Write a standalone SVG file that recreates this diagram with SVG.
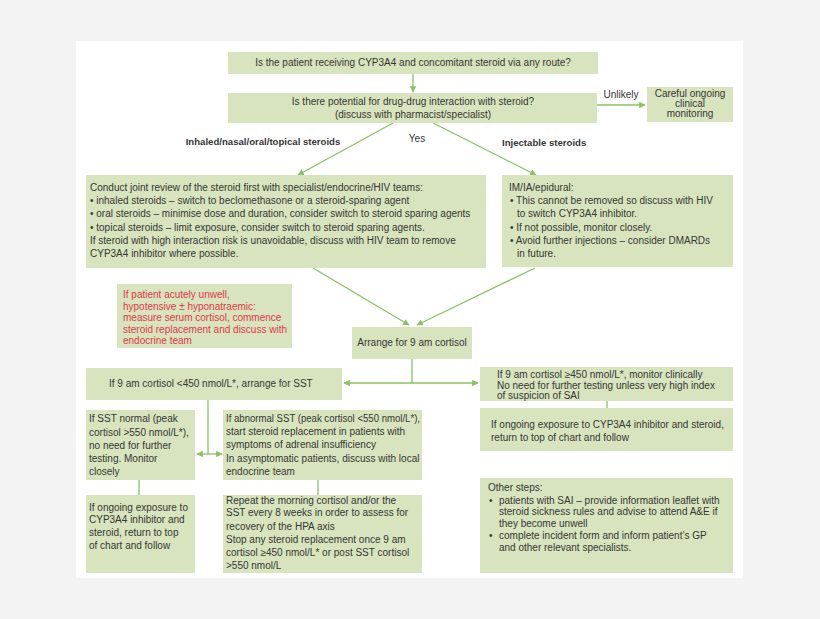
<svg xmlns="http://www.w3.org/2000/svg" width="820" height="619" viewBox="0 0 820 619">
<defs>
<style>
.bg{fill:#f3f3f3}
.page{fill:#ffffff}
.box{fill:#d7e4bd}
.t{font-family:"Liberation Sans",Arial,sans-serif;font-size:10px;fill:#363636}
.c{text-anchor:middle}
.b{font-weight:bold;font-size:9.6px}
.red{fill:#e2374a}
.ln{stroke:#8cc063;stroke-width:1.3;fill:none}
</style>
<marker id="ah" viewBox="0 0 10 10" refX="9" refY="5" markerWidth="5" markerHeight="5" orient="auto-start-reverse">
<path d="M0,0 L10,5 L0,10 z" fill="#8cc063"/>
</marker>
</defs>
<rect class="bg" x="0" y="0" width="820" height="619"/>
<rect class="page" x="76" y="41" width="667" height="537"/>

<g id="connectors">
<line class="ln" x1="413" y1="74" x2="413" y2="92" marker-end="url(#ah)"/>
<line class="ln" x1="597" y1="105" x2="645" y2="105" marker-end="url(#ah)"/>
<line class="ln" x1="393" y1="123" x2="298" y2="175" marker-end="url(#ah)"/>
<line class="ln" x1="433" y1="123" x2="536" y2="175" marker-end="url(#ah)"/>
<line class="ln" x1="313" y1="268" x2="409" y2="325" marker-end="url(#ah)"/>
<line class="ln" x1="535" y1="268" x2="417" y2="325" marker-end="url(#ah)"/>
<line class="ln" x1="412" y1="359" x2="412" y2="383"/>
<line class="ln" x1="344" y1="383" x2="478" y2="383" marker-start="url(#ah)" marker-end="url(#ah)"/>
<line class="ln" x1="208" y1="400" x2="208" y2="454"/>
<line class="ln" x1="197" y1="454" x2="222" y2="454" marker-start="url(#ah)" marker-end="url(#ah)"/>
<line class="ln" x1="139" y1="480" x2="139" y2="495"/>
<line class="ln" x1="318" y1="480" x2="318" y2="495"/>
<line class="ln" x1="607" y1="401" x2="607" y2="408"/>
</g>

<g id="labels">
<text class="t b c" x="263" y="145">Inhaled/nasal/oral/topical steroids</text>
<text class="t c" x="417" y="142">Yes</text>
<text class="t b" x="502" y="146">Injectable steroids</text>
<text class="t c" x="621" y="98">Unlikely</text>
</g>

<g id="n1">
<rect class="box" x="228" y="52" width="370" height="22"/>
<text class="t c" x="413" y="66">Is the patient receiving CYP3A4 and concomitant steroid via any route?</text>
</g>

<g id="n2">
<rect class="box" x="228" y="93" width="369" height="30"/>
<text class="t c" x="413" y="105">Is there potential for drug-drug interaction with steroid?</text>
<text class="t c" x="413" y="118">(discuss with pharmacist/specialist)</text>
</g>

<g id="n3">
<rect class="box" x="647" y="87" width="86" height="35"/>
<text class="t c" x="690" y="97">Careful ongoing</text>
<text class="t c" x="690" y="107">clinical</text>
<text class="t c" x="690" y="117">monitoring</text>
</g>

<g id="n4">
<rect class="box" x="86" y="175" width="400" height="93"/>
<text class="t" x="90" y="191">Conduct joint review of the steroid first with specialist/endocrine/HIV teams:</text>
<text class="t" x="90" y="204">• inhaled steroids – switch to beclomethasone or a steroid-sparing agent</text>
<text class="t" x="90" y="217">• oral steroids – minimise dose and duration, consider switch to steroid sparing agents</text>
<text class="t" x="90" y="231">• topical steroids – limit exposure, consider switch to steroid sparing agents.</text>
<text class="t" x="90" y="244">If steroid with high interaction risk is unavoidable, discuss with HIV team to remove</text>
<text class="t" x="90" y="257">CYP3A4 inhibitor where possible.</text>
</g>

<g id="n5">
<rect class="box" x="502" y="175" width="231" height="92"/>
<text class="t" x="509" y="191">IM/IA/epidural:</text>
<text class="t" x="510" y="204">• This cannot be removed so discuss with HIV</text>
<text class="t" x="517" y="217">to switch CYP3A4 inhibitor.</text>
<text class="t" x="510" y="231">• If not possible, monitor closely.</text>
<text class="t" x="510" y="244">• Avoid further injections – consider DMARDs</text>
<text class="t" x="517" y="257">in future.</text>
</g>

<g id="n6">
<rect class="box" x="117" y="284" width="175" height="64"/>
<text class="t red" x="123" y="298">If patient acutely unwell,</text>
<text class="t red" x="123" y="310">hypotensive ± hyponatraemic:</text>
<text class="t red" x="123" y="321">measure serum cortisol, commence</text>
<text class="t red" x="123" y="333">steroid replacement and discuss with</text>
<text class="t red" x="123" y="344">endocrine team</text>
</g>

<g id="n7">
<rect class="box" x="352" y="327" width="120" height="32"/>
<text class="t c" x="412" y="346">Arrange for 9 am cortisol</text>
</g>

<g id="n8">
<rect class="box" x="86" y="368" width="256" height="32"/>
<text class="t" x="109" y="387">If 9 am cortisol &lt;450 nmol/L*, arrange for SST</text>
</g>

<g id="n9">
<rect class="box" x="480" y="367" width="253" height="34"/>
<text class="t" x="497" y="378">If 9 am cortisol ≥450 nmol/L*, monitor clinically</text>
<text class="t" x="497" y="389">No need for further testing unless very high index</text>
<text class="t" x="497" y="399">of suspicion of SAI</text>
</g>

<g id="n10">
<rect class="box" x="480" y="408" width="253" height="43"/>
<text class="t" x="491" y="428">If ongoing exposure to CYP3A4 inhibitor and steroid,</text>
<text class="t" x="491" y="441">return to top of chart and follow</text>
</g>

<g id="n11">
<rect class="box" x="86" y="410" width="109" height="70"/>
<text class="t" x="89" y="422">If SST normal (peak</text>
<text class="t" x="89" y="436">cortisol &gt;550 nmol/L*),</text>
<text class="t" x="89" y="449">no need for further</text>
<text class="t" x="89" y="462">testing. Monitor</text>
<text class="t" x="89" y="475">closely</text>
</g>

<g id="n12">
<rect class="box" x="223" y="410" width="199" height="70"/>
<text class="t" x="226" y="422" textLength="194" lengthAdjust="spacingAndGlyphs">If abnormal SST (peak cortisol &lt;550 nmol/L*),</text>
<text class="t" x="226" y="435">start steroid replacement in patients with</text>
<text class="t" x="226" y="448">symptoms of adrenal insufficiency</text>
<text class="t" x="226" y="462">In asymptomatic patients, discuss with local</text>
<text class="t" x="226" y="475">endocrine team</text>
</g>

<g id="n13">
<rect class="box" x="86" y="495" width="109" height="78"/>
<text class="t" x="89" y="511">If ongoing exposure to</text>
<text class="t" x="89" y="523">CYP3A4 inhibitor and</text>
<text class="t" x="89" y="536">steroid, return to top</text>
<text class="t" x="89" y="549">of chart and follow</text>
</g>

<g id="n14">
<rect class="box" x="223" y="495" width="199" height="78"/>
<text class="t" x="226" y="504">Repeat the morning cortisol and/or the</text>
<text class="t" x="226" y="516">SST every 8 weeks in order to assess for</text>
<text class="t" x="226" y="530">recovery of the HPA axis</text>
<text class="t" x="226" y="543">Stop any steroid replacement once 9 am</text>
<text class="t" x="226" y="556">cortisol ≥450 nmol/L* or post SST cortisol</text>
<text class="t" x="226" y="569">&gt;550 nmol/L</text>
</g>

<g id="n15">
<rect class="box" x="480" y="478" width="253" height="95"/>
<text class="t" x="488" y="491">Other steps:</text>
<text class="t" x="489" y="504">•</text>
<text class="t" x="499" y="504">patients with SAI – provide information leaflet with</text>
<text class="t" x="499" y="515">steroid sickness rules and advise to attend A&amp;E if</text>
<text class="t" x="499" y="527">they become unwell</text>
<text class="t" x="489" y="539">•</text>
<text class="t" x="499" y="539">complete incident form and inform patient’s GP</text>
<text class="t" x="499" y="551">and other relevant specialists.</text>
</g>
</svg>
